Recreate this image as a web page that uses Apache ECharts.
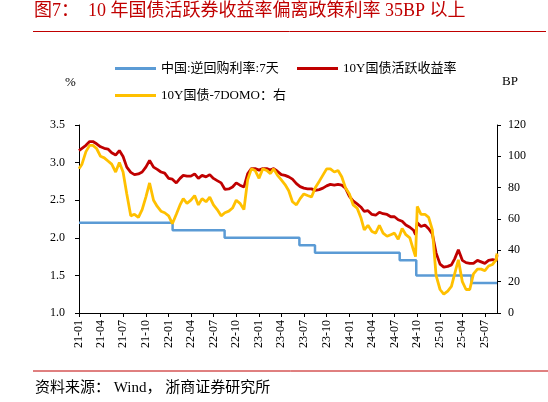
<!DOCTYPE html>
<html><head><meta charset="utf-8">
<script src="https://cdn.jsdelivr.net/npm/echarts@6/dist/echarts.min.js"></script>
<style>html,body{margin:0;padding:0;background:#fff}#c{width:548px;height:402px}</style>
</head><body><div id="c"></div>
<script>
// ---- data ----
const dates = [
 '2021-01-04','2021-01-16','2021-02-01','2021-02-16','2021-03-01','2021-03-16','2021-04-01','2021-04-16','2021-05-01','2021-05-16','2021-06-01','2021-06-16',
 '2021-07-01','2021-07-16','2021-08-01','2021-08-16','2021-09-01','2021-09-16','2021-10-01','2021-10-16','2021-11-01','2021-11-16','2021-12-01','2021-12-16',
 '2022-01-01','2022-01-16','2022-02-01','2022-02-16','2022-03-01','2022-03-16','2022-04-01','2022-04-16','2022-05-01','2022-05-16','2022-06-01','2022-06-16',
 '2022-07-01','2022-07-16','2022-08-01','2022-08-16','2022-09-01','2022-09-16','2022-10-01','2022-10-16','2022-11-01','2022-11-16','2022-12-01','2022-12-16',
 '2023-01-01','2023-01-16','2023-02-01','2023-02-16','2023-03-01','2023-03-16','2023-04-01','2023-04-16','2023-05-01','2023-05-16','2023-06-01','2023-06-16',
 '2023-07-01','2023-07-16','2023-08-01','2023-08-16','2023-09-01','2023-09-16','2023-10-01','2023-10-16','2023-11-01','2023-11-16','2023-12-01','2023-12-16',
 '2024-01-01','2024-01-16','2024-02-01','2024-02-16','2024-03-01','2024-03-16','2024-04-01','2024-04-16','2024-05-01','2024-05-16','2024-06-01','2024-06-16',
 '2024-07-01','2024-07-16','2024-08-01','2024-08-16','2024-09-01','2024-09-16','2024-09-24','2024-10-01','2024-10-16','2024-11-01','2024-11-16','2024-12-01','2024-12-16',
 '2025-01-01','2025-01-16','2025-02-01','2025-02-16','2025-03-01','2025-03-16','2025-04-01','2025-04-16','2025-05-01','2025-05-16','2025-06-01','2025-06-16',
 '2025-07-01','2025-07-16','2025-08-01','2025-08-16','2025-08-19'
];
// 10Y active CGB yield, %
const yield10y = [
 3.16,3.19,3.23,3.28,3.28,3.25,3.21,3.19,3.18,3.13,3.10,3.16,
 3.08,2.94,2.87,2.84,2.85,2.875,2.94,3.03,2.94,2.91,2.875,2.86,
 2.79,2.78,2.73,2.79,2.83,2.82,2.82,2.85,2.79,2.83,2.81,2.84,
 2.79,2.76,2.73,2.645,2.65,2.675,2.73,2.70,2.675,2.85,2.92,2.92,
 2.90,2.92,2.92,2.90,2.92,2.885,2.84,2.83,2.81,2.78,2.72,2.68,
 2.66,2.65,2.65,2.63,2.64,2.66,2.69,2.71,2.70,2.71,2.70,2.66,
 2.55,2.49,2.45,2.41,2.35,2.36,2.31,2.30,2.34,2.32,2.31,2.28,
 2.28,2.24,2.22,2.17,2.14,2.10,2.04,2.20,2.15,2.17,2.12,2.05,1.80,
 1.65,1.61,1.62,1.64,1.72,1.84,1.70,1.67,1.66,1.66,1.70,1.68,
 1.66,1.70,1.71,1.70,1.77
];
// 10Y minus 7D OMO, BP (right axis)
const spreadBP = [
 92,95,103,107,107,105,100,99,97,95,90,96,
 90,76,62,63,61,66,74,83,72,68,65,64,
 62,57,63,69,73,70,72,75,69,73,71,74,
 69,66,62,64,65,67,72,70,66,85,92,91,
 86,92,91,89,92,88,85,82,78,71,69,73,
 76,75,74,80,84,88,92,92,90,91,87,80,
 76,69,67,61,53,56,52,51,56,51,49,50,
 51,47,54,50,48,40,36,68,63,63,61,53,24,
 15,12,14,17,25,34,20,15,15,25,28,28,
 27,30,31,34,38
];
// 7-day reverse repo rate, step changes
const omoDates = ['2021-01-04','2022-01-17','2022-08-15','2023-06-13','2023-08-15','2024-07-22','2024-09-27','2025-05-08','2025-08-19'];
const omoRates = [2.2,2.1,2.0,1.9,1.8,1.7,1.5,1.4,1.4];
// x-axis tick labels (quarter starts)
const tickDates = ['2021-01-04','2021-04-01','2021-07-01','2021-10-01','2022-01-01','2022-04-01','2022-07-01','2022-10-01',
 '2023-01-01','2023-04-01','2023-07-01','2023-10-01','2024-01-01','2024-04-01','2024-07-01','2024-10-01',
 '2025-01-01','2025-04-01','2025-07-01'];
const xRange = ['2021-01-04','2025-08-19'];
const leftTicks = {min:1.0, max:3.5, interval:0.5};
const rightTicks = {min:0, max:120, interval:20};
const names = ['中国:逆回购利率:7天','10Y国债活跃收益率','10Y国债-7DOMO：右'];

// ---- chart ----
const FONT = '"Liberation Serif","Noto Sans CJK SC",serif';
const ts = d => { const p = d.split('-').map(Number); return Date.UTC(p[0], p[1]-1, p[2]); };
const tickTs = tickDates.map(ts);
const chart = echarts.init(document.getElementById('c'), null, {renderer:'canvas'});
const legendCommon = {
  orient:'horizontal', icon:'rect', itemWidth:41, itemHeight:3, selectedMode:false,
  textStyle:{fontFamily:FONT, fontSize:13, color:'#000'}
};
chart.setOption({
  animation:false,
  backgroundColor:'#fff',
  grid:{left:79, right:51, top:125, bottom:89, containLabel:false},
  legend:[
    Object.assign({data:[names[0]], left:110, top:57}, legendCommon),
    Object.assign({data:[names[1]], left:292, top:57}, legendCommon),
    Object.assign({data:[names[2]], left:110, top:84}, legendCommon)
  ],
  xAxis:{
    type:'value', min:ts(xRange[0]), max:ts(xRange[1]), scale:true,
    axisLine:{show:true, onZero:false, lineStyle:{color:'#000', width:1}},
    axisTick:{show:true, length:4, lineStyle:{color:'#000'}, customValues:tickTs},
    splitLine:{show:false},
    axisLabel:{rotate:90, margin:7, fontFamily:FONT, fontSize:12, color:'#000',
      customValues:tickTs,
      formatter:function(v){const d=new Date(v);return String(d.getUTCFullYear()).slice(2)+'-'+String(d.getUTCMonth()+1).padStart(2,'0');}}
  },
  yAxis:[
    {type:'value', position:'left', min:leftTicks.min, max:leftTicks.max, interval:leftTicks.interval,
      axisLine:{show:true, lineStyle:{color:'#000', width:1}},
      axisTick:{show:true, length:4, lineStyle:{color:'#000'}}, splitLine:{show:false},
      axisLabel:{margin:14, fontFamily:FONT, fontSize:12, color:'#000', formatter:v=>v.toFixed(1)}},
    {type:'value', position:'right', min:rightTicks.min, max:rightTicks.max, interval:rightTicks.interval,
      axisLine:{show:true, lineStyle:{color:'#000', width:1}},
      axisTick:{show:true, length:4, lineStyle:{color:'#000'}}, splitLine:{show:false},
      axisLabel:{margin:11, fontFamily:FONT, fontSize:12, color:'#000'}}
  ],
  series:[
    {name:names[0], type:'line', step:'end', yAxisIndex:0, showSymbol:false, symbol:'none',
     lineStyle:{color:'#5B9BD5', width:2.5}, itemStyle:{color:'#5B9BD5'},
     data:omoDates.map((d,i)=>[ts(d), omoRates[i]])},
    {name:names[1], type:'line', yAxisIndex:0, showSymbol:false, symbol:'none',
     lineStyle:{color:'#C00000', width:2.8}, itemStyle:{color:'#C00000'},
     data:dates.map((d,i)=>[ts(d), yield10y[i]])},
    {name:names[2], type:'line', yAxisIndex:1, showSymbol:false, symbol:'none',
     lineStyle:{color:'#FFC000', width:2.8}, itemStyle:{color:'#FFC000'},
     data:dates.map((d,i)=>[ts(d), spreadBP[i]])}
  ],
  graphic:[
    {type:'text', left:34, top:2, style:{text:'图7：  10 年国债活跃券收益率偏离政策利率 35BP 以上', font:'18px '+FONT, fill:'#C00000'}},
    {type:'line', shape:{x1:33, y1:31.5, x2:546, y2:31.5}, style:{stroke:'#C00000', lineWidth:1}},
    {type:'text', left:65, top:76, style:{text:'%', font:'13px '+FONT, fill:'#000'}},
    {type:'text', left:502, top:75, style:{text:'BP', font:'13px '+FONT, fill:'#000'}},
    {type:'line', shape:{x1:33, y1:371, x2:548, y2:371}, style:{stroke:'#C00000', lineWidth:1}},
    {type:'text', left:35, top:381, style:{text:'资料来源： Wind， 浙商证券研究所', font:'15px '+FONT, fill:'#000'}}
  ]
});
</script></body></html>
